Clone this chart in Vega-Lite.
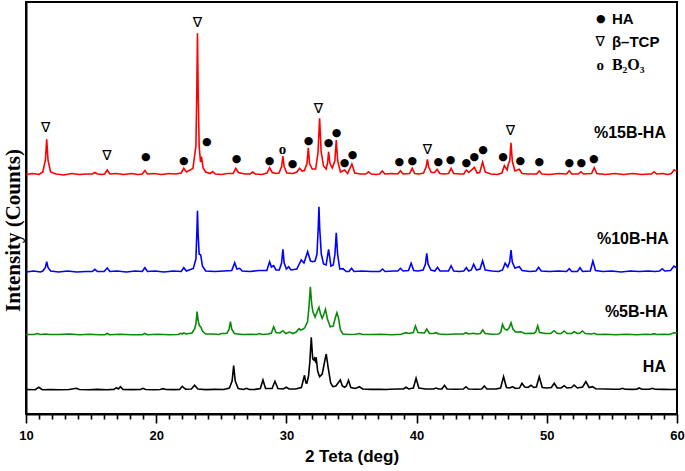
{
  "$schema": "https://vega.github.io/schema/vega-lite/v6.json",
  "width": 651,
  "height": 412,
  "autosize": {"type": "none"},
  "padding": {"left": 26, "top": 2, "right": 8, "bottom": 57},
  "background": "white",
  "config": {
    "view": {"stroke": "black", "strokeWidth": 2},
    "axis": {"grid": false, "domainColor": "black", "domainWidth": 2, "tickColor": "black"}
  },
  "datasets": {
    "red": [
      {"x":10,"y":239.5},{"x":10.5,"y":240.5},{"x":11.0,"y":239.5},
      {"x":11.29,"y":242},{"x":11.49,"y":253.9},{"x":11.59,"y":274.7},{"x":11.69,"y":253.9},{"x":11.89,"y":242},
      {"x":12.3,"y":240},{"x":12.9,"y":239},{"x":13.5,"y":240.5},{"x":14.1,"y":239.5},{"x":14.7,"y":240},
      {"x":15.09,"y":240},{"x":15.29,"y":241.5},{"x":15.49,"y":240},{"x":15.8,"y":239.5},
      {"x":16.04,"y":240},{"x":16.24,"y":244},{"x":16.44,"y":240},
      {"x":16.9,"y":240.5},{"x":17.5,"y":239.5},{"x":18.1,"y":240.5},{"x":18.6,"y":239.5},
      {"x":18.93,"y":240},{"x":19.13,"y":243.5},{"x":19.33,"y":240},
      {"x":19.8,"y":240.5},{"x":20.4,"y":239.5},{"x":21.0,"y":240.5},{"x":21.5,"y":240},
      {"x":21.92,"y":241},{"x":22.12,"y":245.7},{"x":22.32,"y":242},
      {"x":22.82,"y":245.6},{"x":23.05,"y":268},{"x":23.12,"y":324.4},{"x":23.17,"y":380.7},{"x":23.22,"y":324.4},{"x":23.3,"y":268},
      {"x":23.4,"y":252},{"x":23.48,"y":257.3},{"x":23.6,"y":246},{"x":23.8,"y":242},
      {"x":24.14,"y":240.5},{"x":24.34,"y":242.5},{"x":24.54,"y":240},
      {"x":25.0,"y":239.5},{"x":25.5,"y":240.5},
      {"x":25.91,"y":240.5},{"x":26.11,"y":245.7},{"x":26.31,"y":241.5},{"x":26.8,"y":240},
      {"x":27.21,"y":240},{"x":27.41,"y":242},{"x":27.61,"y":240},{"x":28.1,"y":239.5},
      {"x":28.51,"y":241},{"x":28.71,"y":246.3},{"x":28.91,"y":241.5},{"x":29.2,"y":240.5},
      {"x":29.43,"y":241},{"x":29.63,"y":247.2},{"x":29.73,"y":258},{"x":29.83,"y":247.2},{"x":30.03,"y":241},
      {"x":30.5,"y":240.5},{"x":30.81,"y":242},{"x":31.01,"y":245.7},{"x":31.2,"y":243},
      {"x":31.38,"y":243.5},{"x":31.58,"y":250.5},{"x":31.68,"y":266.3},{"x":31.78,"y":250.5},{"x":31.98,"y":245},
      {"x":32.25,"y":245},{"x":32.43,"y":262},{"x":32.55,"y":295.7},{"x":32.67,"y":262},{"x":32.85,"y":248},
      {"x":33.05,"y":245},{"x":33.16,"y":251},{"x":33.24,"y":262.3},{"x":33.34,"y":251},{"x":33.52,"y":246},
      {"x":33.72,"y":253},{"x":33.83,"y":274},{"x":33.94,"y":253},{"x":34.15,"y":242},
      {"x":34.47,"y":244},{"x":34.7,"y":240.5},{"x":35.03,"y":250},{"x":35.25,"y":241},{"x":35.7,"y":240},
      {"x":36.11,"y":240},{"x":36.31,"y":242.3},{"x":36.51,"y":240},{"x":36.9,"y":239.5},
      {"x":37.16,"y":240},{"x":37.36,"y":243},{"x":37.56,"y":240},{"x":38.1,"y":240.5},
      {"x":38.56,"y":240},{"x":38.76,"y":243.3},{"x":38.96,"y":240},
      {"x":39.46,"y":240.5},{"x":39.66,"y":245.7},{"x":39.86,"y":240.5},{"x":40.2,"y":240},
      {"x":40.53,"y":241},{"x":40.73,"y":247},{"x":40.83,"y":254.7},{"x":40.93,"y":247},{"x":41.13,"y":241.5},
      {"x":41.38,"y":241.5},{"x":41.58,"y":244.7},{"x":41.78,"y":240.5},{"x":42.1,"y":240},
      {"x":42.45,"y":240.5},{"x":42.65,"y":245.7},{"x":42.85,"y":240.5},{"x":43.3,"y":240},
      {"x":43.62,"y":240},{"x":43.82,"y":244},{"x":44.0,"y":241.5},{"x":44.44,"y":246.7},{"x":44.65,"y":241},
      {"x":44.85,"y":241.5},{"x":45.07,"y":252},{"x":45.27,"y":242},{"x":45.7,"y":240},{"x":46.2,"y":239.5},
      {"x":46.55,"y":241},{"x":46.74,"y":248.3},{"x":46.95,"y":244},
      {"x":47.05,"y":250},{"x":47.15,"y":253},{"x":47.25,"y":271.3},{"x":47.35,"y":253},{"x":47.55,"y":243},
      {"x":47.89,"y":244.7},{"x":48.1,"y":240.5},{"x":48.6,"y":240},
      {"x":49.22,"y":240},{"x":49.42,"y":243},{"x":49.62,"y":240},{"x":50.2,"y":239.5},{"x":50.9,"y":240.5},
      {"x":51.52,"y":240},{"x":51.72,"y":243.3},{"x":51.92,"y":240},
      {"x":52.42,"y":240},{"x":52.62,"y":242.3},{"x":52.82,"y":240},
      {"x":53.44,"y":240.5},{"x":53.64,"y":246.3},{"x":53.84,"y":240.5},
      {"x":54.5,"y":239.5},{"x":55.2,"y":240.5},{"x":55.9,"y":239.5},{"x":56.6,"y":240.5},{"x":57.3,"y":239.5},{"x":57.9,"y":240},
      {"x":58.04,"y":240},{"x":58.24,"y":242.3},{"x":58.44,"y":240},{"x":58.9,"y":240.5},{"x":59.3,"y":239.5},
      {"x":59.57,"y":240.5},{"x":59.77,"y":244},{"x":60,"y":243}
    ],
    "blue": [
      {"x":10,"y":142},{"x":10.6,"y":143},{"x":11.1,"y":142},
      {"x":11.29,"y":143},{"x":11.49,"y":146.5},{"x":11.59,"y":152.3},{"x":11.69,"y":146.5},{"x":11.89,"y":143},
      {"x":12.5,"y":142},{"x":13.2,"y":143},{"x":13.9,"y":142},{"x":14.6,"y":142.5},
      {"x":15.09,"y":142.5},{"x":15.29,"y":144.7},{"x":15.49,"y":142.5},
      {"x":16.0,"y":142.5},{"x":16.24,"y":146},{"x":16.45,"y":142.5},
      {"x":17.0,"y":143},{"x":17.7,"y":142},{"x":18.4,"y":143},
      {"x":18.93,"y":142.5},{"x":19.13,"y":146.3},{"x":19.33,"y":142.5},
      {"x":19.9,"y":143},{"x":20.6,"y":142},{"x":21.3,"y":143},
      {"x":21.92,"y":142.5},{"x":22.12,"y":146.3},{"x":22.32,"y":143},
      {"x":22.85,"y":145.5},{"x":23.05,"y":155},{"x":23.12,"y":180},{"x":23.17,"y":203.3},{"x":23.22,"y":180},{"x":23.3,"y":160},
      {"x":23.42,"y":159},{"x":23.55,"y":148},{"x":23.8,"y":143},
      {"x":24.5,"y":142.5},{"x":25.2,"y":143},
      {"x":25.8,"y":143.5},{"x":26.03,"y":151.3},{"x":26.2,"y":145},{"x":26.41,"y":145.7},{"x":26.6,"y":143},
      {"x":27.2,"y":142.5},{"x":27.9,"y":143.5},
      {"x":28.5,"y":143.5},{"x":28.71,"y":152.3},{"x":28.85,"y":147},{"x":29.02,"y":148.3},{"x":29.2,"y":144},
      {"x":29.45,"y":144},{"x":29.63,"y":151},{"x":29.73,"y":164.7},{"x":29.83,"y":151},{"x":30.0,"y":145},
      {"x":30.17,"y":147.3},{"x":30.35,"y":144},
      {"x":30.8,"y":145},{"x":31.14,"y":154},{"x":31.35,"y":151},{"x":31.63,"y":162.3},{"x":31.85,"y":153},{"x":32.01,"y":152.3},{"x":32.2,"y":153},
      {"x":32.35,"y":160},{"x":32.44,"y":185},{"x":32.5,"y":207.3},{"x":32.56,"y":185},{"x":32.68,"y":160},{"x":32.85,"y":150},
      {"x":33.05,"y":149},{"x":33.24,"y":164.7},{"x":33.42,"y":148},
      {"x":33.6,"y":149},{"x":33.73,"y":160},{"x":33.83,"y":181.3},{"x":33.93,"y":160},{"x":34.1,"y":145},
      {"x":34.34,"y":145.3},{"x":34.6,"y":142.5},
      {"x":34.8,"y":142.5},{"x":35.0,"y":145.7},{"x":35.2,"y":142.5},
      {"x":35.8,"y":143},{"x":36.5,"y":142.5},
      {"x":37.18,"y":142.5},{"x":37.38,"y":145},{"x":37.58,"y":142.5},{"x":38.2,"y":143},
      {"x":38.56,"y":143},{"x":38.76,"y":145.7},{"x":38.96,"y":143},
      {"x":39.38,"y":143.5},{"x":39.58,"y":150.7},{"x":39.78,"y":143.5},{"x":40.1,"y":143},
      {"x":40.5,"y":144},{"x":40.68,"y":150},{"x":40.78,"y":160.7},{"x":40.88,"y":150},{"x":41.1,"y":144},
      {"x":41.4,"y":143},{"x":41.6,"y":146.7},{"x":41.8,"y":143},
      {"x":42.45,"y":143},{"x":42.65,"y":148.3},{"x":42.85,"y":143},{"x":43.3,"y":142.5},
      {"x":43.62,"y":143},{"x":43.82,"y":146.3},{"x":44.0,"y":143},
      {"x":44.2,"y":144},{"x":44.38,"y":149.7},{"x":44.6,"y":144},
      {"x":44.87,"y":145},{"x":45.07,"y":153.3},{"x":45.27,"y":144},
      {"x":45.8,"y":143},{"x":46.3,"y":142.5},
      {"x":46.6,"y":144},{"x":46.8,"y":150.7},{"x":47.0,"y":147},{"x":47.15,"y":152},{"x":47.25,"y":164},{"x":47.35,"y":152},{"x":47.55,"y":146},
      {"x":47.89,"y":147.3},{"x":48.1,"y":143.5},{"x":48.7,"y":142.5},
      {"x":49.17,"y":143},{"x":49.37,"y":146.7},{"x":49.57,"y":143},
      {"x":50.2,"y":142.5},{"x":50.9,"y":143},
      {"x":51.52,"y":142.5},{"x":51.72,"y":145.3},{"x":51.92,"y":142.5},
      {"x":52.35,"y":142.5},{"x":52.55,"y":146.3},{"x":52.75,"y":142.5},
      {"x":53.34,"y":143},{"x":53.54,"y":153},{"x":53.74,"y":143.5},
      {"x":54.3,"y":142.5},{"x":55.0,"y":143},{"x":55.7,"y":142},{"x":56.4,"y":143},{"x":57.1,"y":142.5},{"x":57.8,"y":143},{"x":58.3,"y":142.5},
      {"x":58.66,"y":143},{"x":58.86,"y":145.3},{"x":59.06,"y":143},
      {"x":59.5,"y":143.5},{"x":59.77,"y":148},{"x":60,"y":146}
    ],
    "green": [
      {"x":10,"y":79.5},{"x":10.6,"y":79.5},{"x":10.86,"y":80.5},{"x":11.1,"y":79.5},{"x":11.53,"y":80},{"x":11.8,"y":79.5},
      {"x":12.5,"y":79.5},{"x":13.3,"y":80},{"x":14.1,"y":79.2},{"x":14.9,"y":79.7},{"x":15.6,"y":79.3},
      {"x":16.04,"y":79.3},{"x":16.24,"y":80.5},{"x":16.44,"y":79.3},
      {"x":17.2,"y":79.7},{"x":18.1,"y":79.2},
      {"x":18.93,"y":79.3},{"x":19.13,"y":80.5},{"x":19.33,"y":79.3},
      {"x":20.1,"y":79.7},{"x":21.0,"y":79.3},
      {"x":21.7,"y":79.5},{"x":21.86,"y":80.7},{"x":22.0,"y":80},{"x":22.12,"y":81},{"x":22.3,"y":80},
      {"x":22.75,"y":81},{"x":22.95,"y":85},{"x":23.05,"y":90},{"x":23.14,"y":102.3},{"x":23.24,"y":92},{"x":23.33,"y":88},
      {"x":23.42,"y":87.3},{"x":23.55,"y":83},{"x":23.8,"y":80},
      {"x":24.37,"y":80},{"x":24.8,"y":79.5},{"x":25.01,"y":80.5},{"x":25.3,"y":80.5},
      {"x":25.45,"y":81},{"x":25.6,"y":85},{"x":25.7,"y":92.3},{"x":25.8,"y":85},{"x":26.0,"y":80.5},
      {"x":26.6,"y":79.5},{"x":27.3,"y":79.8},
      {"x":27.74,"y":79.5},{"x":27.94,"y":80.5},{"x":28.14,"y":79.5},{"x":28.6,"y":80},
      {"x":28.85,"y":81},{"x":29.02,"y":87.3},{"x":29.2,"y":81.5},
      {"x":29.5,"y":81},{"x":29.73,"y":83.3},{"x":29.95,"y":80.5},
      {"x":30.25,"y":82},{"x":30.5,"y":80.5},
      {"x":30.75,"y":82},{"x":30.97,"y":85.3},{"x":31.1,"y":84},{"x":31.22,"y":84.5},{"x":31.4,"y":86},
      {"x":31.62,"y":92},{"x":31.72,"y":105},{"x":31.84,"y":127.3},{"x":31.94,"y":110},{"x":32.04,"y":102.3},{"x":32.2,"y":97},
      {"x":32.5,"y":106.7},{"x":32.62,"y":100},{"x":32.75,"y":95.7},{"x":32.88,"y":100},{"x":33.0,"y":104.7},{"x":33.15,"y":95},{"x":33.37,"y":87.3},
      {"x":33.6,"y":88},{"x":33.75,"y":96},{"x":33.88,"y":101.3},{"x":34.0,"y":96},{"x":34.15,"y":84},{"x":34.34,"y":80},
      {"x":34.8,"y":79.5},{"x":35.3,"y":79.7},{"x":35.61,"y":80.5},{"x":35.85,"y":79.5},
      {"x":36.5,"y":79.5},{"x":37.3,"y":79.8},{"x":38.1,"y":79.3},{"x":38.8,"y":79.7},
      {"x":39.19,"y":81.3},{"x":39.4,"y":80.5},
      {"x":39.75,"y":81.5},{"x":39.91,"y":88},{"x":40.1,"y":81.5},
      {"x":40.6,"y":81},{"x":40.78,"y":85},{"x":40.98,"y":80.5},
      {"x":41.3,"y":80.5},{"x":41.5,"y":81.3},{"x":41.7,"y":80},
      {"x":42.3,"y":79.5},{"x":43.0,"y":80},
      {"x":43.6,"y":80},{"x":43.79,"y":81.3},{"x":44.0,"y":80},{"x":44.38,"y":80.7},{"x":44.6,"y":80},
      {"x":44.9,"y":80.5},{"x":45.07,"y":84},{"x":45.27,"y":80.5},
      {"x":45.8,"y":79.7},{"x":46.3,"y":80},
      {"x":46.47,"y":82},{"x":46.6,"y":89.7},{"x":46.75,"y":85},{"x":46.95,"y":84},{"x":47.1,"y":86},{"x":47.25,"y":91.3},{"x":47.4,"y":85},{"x":47.6,"y":82},
      {"x":48.02,"y":82.3},{"x":48.3,"y":80.5},
      {"x":48.79,"y":80.7},{"x":49.0,"y":80.5},{"x":49.15,"y":82},{"x":49.3,"y":88.3},{"x":49.45,"y":81.5},
      {"x":49.9,"y":80.5},{"x":50.3,"y":80.5},{"x":50.57,"y":83.3},{"x":50.8,"y":80.5},
      {"x":51.1,"y":80.5},{"x":51.34,"y":83},{"x":51.55,"y":80.5},
      {"x":51.9,"y":80.5},{"x":52.1,"y":82.3},{"x":52.35,"y":80.5},
      {"x":52.55,"y":81},{"x":52.74,"y":83},{"x":52.95,"y":80.5},
      {"x":53.4,"y":80},{"x":53.64,"y":80.7},{"x":53.85,"y":79.5},
      {"x":54.5,"y":79.7},{"x":55.3,"y":79.3},{"x":56.1,"y":79.8},{"x":56.9,"y":79.3},{"x":57.6,"y":79.8},
      {"x":58.04,"y":79.5},{"x":58.24,"y":80.3},{"x":58.44,"y":79.5},
      {"x":59.0,"y":79.8},{"x":59.4,"y":79.5},{"x":59.77,"y":81.3},{"x":60,"y":81}
    ],
    "black": [
      {"x":10,"y":24.5},{"x":10.7,"y":24.3},{"x":10.99,"y":26.7},{"x":11.25,"y":24.3},
      {"x":11.9,"y":24.5},{"x":12.6,"y":24.2},{"x":13.3,"y":24.5},
      {"x":13.88,"y":25.7},{"x":14.1,"y":24.5},
      {"x":14.8,"y":24.3},{"x":15.5,"y":24.6},{"x":16.2,"y":24.3},
      {"x":16.75,"y":24.6},{"x":16.94,"y":26.3},{"x":17.1,"y":25},{"x":17.25,"y":27.3},{"x":17.45,"y":24.5},
      {"x":18.1,"y":24.4},
      {"x":18.8,"y":24.5},{"x":18.98,"y":25.7},{"x":19.2,"y":24.5},{"x":19.9,"y":24.3},
      {"x":20.3,"y":24.5},{"x":20.52,"y":25.3},{"x":20.75,"y":24.5},{"x":21.4,"y":24.4},
      {"x":21.8,"y":24.6},{"x":22.0,"y":27.7},{"x":22.25,"y":24.8},
      {"x":22.7,"y":25},{"x":22.95,"y":28.7},{"x":23.2,"y":25},
      {"x":23.8,"y":24.4},{"x":24.5,"y":24.6},{"x":25.2,"y":24.5},
      {"x":25.62,"y":26},{"x":25.83,"y":33},{"x":25.95,"y":48.3},{"x":26.07,"y":33},{"x":26.3,"y":25.5},
      {"x":26.7,"y":24.5},{"x":26.92,"y":25.7},{"x":27.15,"y":24.5},{"x":27.6,"y":24.6},
      {"x":28.0,"y":25.5},{"x":28.2,"y":34},{"x":28.4,"y":25.5},
      {"x":28.9,"y":25.5},{"x":29.12,"y":32.7},{"x":29.35,"y":25.5},
      {"x":29.75,"y":25},{"x":29.99,"y":26.7},{"x":30.2,"y":25},{"x":30.7,"y":25},
      {"x":31.15,"y":26.5},{"x":31.39,"y":38.7},{"x":31.5,"y":31},{"x":31.57,"y":30.7},{"x":31.7,"y":38},
      {"x":31.8,"y":52},{"x":31.91,"y":76.7},{"x":32.02,"y":55},{"x":32.1,"y":54},{"x":32.16,"y":55.7},{"x":32.22,"y":53},{"x":32.29,"y":56.7},{"x":32.4,"y":43},
      {"x":32.55,"y":37.3},{"x":32.75,"y":40},{"x":32.93,"y":52},{"x":33.06,"y":60},{"x":33.2,"y":47},{"x":33.4,"y":31},
      {"x":33.57,"y":27.3},{"x":33.8,"y":28},{"x":34.14,"y":34},{"x":34.3,"y":28},{"x":34.47,"y":26.7},{"x":34.6,"y":28},{"x":34.77,"y":33.7},{"x":34.95,"y":26.5},
      {"x":35.3,"y":25.5},{"x":35.61,"y":27.3},{"x":35.85,"y":25},
      {"x":36.5,"y":24.6},{"x":37.2,"y":24.8},{"x":37.71,"y":24.5},{"x":37.91,"y":24.7},{"x":38.6,"y":25},
      {"x":38.99,"y":25},{"x":39.19,"y":26.7},{"x":39.4,"y":25},
      {"x":39.75,"y":26},{"x":39.96,"y":35.7},{"x":40.17,"y":26},{"x":40.7,"y":25},
      {"x":41.3,"y":25},{"x":41.5,"y":26},{"x":41.7,"y":25},
      {"x":41.94,"y":25},{"x":42.14,"y":28.7},{"x":42.34,"y":25},{"x":43.0,"y":24.8},
      {"x":43.59,"y":25},{"x":43.79,"y":27.3},{"x":43.99,"y":25},{"x":44.6,"y":24.8},
      {"x":45.0,"y":25},{"x":45.2,"y":28},{"x":45.4,"y":25},{"x":46.1,"y":25},
      {"x":46.45,"y":26},{"x":46.68,"y":37.3},{"x":46.9,"y":26.5},
      {"x":47.15,"y":26},{"x":47.37,"y":27.3},{"x":47.6,"y":25.5},
      {"x":47.9,"y":26},{"x":48.09,"y":30.7},{"x":48.3,"y":27},
      {"x":48.55,"y":26.5},{"x":48.79,"y":28.7},{"x":49.0,"y":26.5},
      {"x":49.2,"y":27},{"x":49.42,"y":37.3},{"x":49.65,"y":26.5},
      {"x":50.0,"y":26},{"x":50.35,"y":26.5},{"x":50.57,"y":30.7},{"x":50.8,"y":26},
      {"x":51.1,"y":26},{"x":51.34,"y":28.3},{"x":51.55,"y":26},
      {"x":51.9,"y":26.5},{"x":52.1,"y":29},{"x":52.35,"y":26},
      {"x":52.75,"y":27},{"x":53.0,"y":32.3},{"x":53.25,"y":26.5},{"x":53.51,"y":27.3},{"x":53.75,"y":25.3},
      {"x":54.5,"y":25},{"x":55.2,"y":24.8},
      {"x":55.6,"y":24.8},{"x":55.81,"y":25.7},{"x":56.0,"y":24.8},{"x":56.6,"y":24.6},
      {"x":56.9,"y":24.8},{"x":57.09,"y":26},{"x":57.3,"y":24.8},
      {"x":57.9,"y":24.8},{"x":58.11,"y":25.7},{"x":58.3,"y":24.8},
      {"x":59.0,"y":24.6},{"x":59.6,"y":24.5},{"x":60,"y":24.6}
    ],
    "dots": [
      {"x":19.2,"y":257,"m":"●"},{"x":22.12,"y":253,"m":"●"},
      {"x":23.88,"y":272,"m":"●"},{"x":26.18,"y":255,"m":"●"},{"x":28.71,"y":253,"m":"●"},
      {"x":30.48,"y":250,"m":"●"},{"x":31.7,"y":273,"m":"●"},
      {"x":33.24,"y":271,"m":"●"},{"x":33.86,"y":281,"m":"●"},{"x":34.47,"y":251,"m":"●"},{"x":35.08,"y":259,"m":"●"},
      {"x":38.68,"y":252,"m":"●"},{"x":39.66,"y":253,"m":"●"},{"x":41.67,"y":252,"m":"●"},
      {"x":42.6,"y":254,"m":"●"},{"x":43.82,"y":251,"m":"●"},{"x":44.44,"y":257,"m":"●"},{"x":45.1,"y":264,"m":"●"},
      {"x":46.64,"y":257,"m":"●"},{"x":47.97,"y":253,"m":"●"},{"x":49.42,"y":252,"m":"●"},
      {"x":51.72,"y":251,"m":"●"},{"x":52.64,"y":251,"m":"●"},{"x":53.61,"y":255,"m":"●"},
      {"x":54.15,"y":395,"m":"●"}
    ],
    "nablas": [
      {"x":11.51,"y":286,"m":"∇"},{"x":16.21,"y":258,"m":"∇"},{"x":23.17,"y":391.3,"m":"∇"},{"x":32.47,"y":305,"m":"∇"},
      {"x":40.83,"y":264,"m":"∇"},{"x":47.2,"y":283,"m":"∇"},{"x":54.1,"y":372,"m":"∇"}
    ],
    "oMarkers": [
      {"x":29.71,"y":265,"m":"o"},{"x":54.1,"y":349,"m":"o"}
    ],
    "legendSans": [
      {"x":55.0,"y":395,"t":"HA"},{"x":55.0,"y":372,"t":"β–TCP"}
    ],
    "legendSerif": [
      {"x":55.0,"y":349,"t":"B₂O₃"}
    ],
    "seriesLabels": [
      {"x":59.15,"y":281,"t":"%15B-HA"},{"x":59.38,"y":175,"t":"%10B-HA"},{"x":59.31,"y":102,"t":"%5B-HA"},{"x":59.15,"y":47,"t":"HA"}
    ]
  },
  "encoding": {
    "x": {
      "field": "x", "type": "quantitative",
      "scale": {"domain": [10, 60], "nice": false, "zero": false},
      "axis": {
        "title": "2 Teta (deg)",
        "titleFont": "Liberation Sans", "titleFontSize": 17, "titleFontWeight": "bold", "titleColor": "black", "titlePadding": 6,
        "values": [10,11,12,13,14,15,16,17,18,19,20,21,22,23,24,25,26,27,28,29,30,31,32,33,34,35,36,37,38,39,40,41,42,43,44,45,46,47,48,49,50,51,52,53,54,55,56,57,58,59,60],
        "labelExpr": "datum.value % 10 === 0 ? datum.label : ''",
        "labelOverlap": false,
        "labelFont": "Liberation Sans", "labelFontSize": 13, "labelFontWeight": "bold", "labelColor": "black", "labelPadding": 6,
        "labelFlush": false,
        "tickSize": {"condition": {"test": "datum.value % 10 === 0", "value": 9}, "value": 5},
        "tickWidth": 1.6
      }
    },
    "y": {
      "field": "y", "type": "quantitative",
      "scale": {"domain": [0, 412], "nice": false, "zero": false},
      "axis": {
        "title": "Intensity (Counts)",
        "titleFont": "Liberation Serif", "titleFontSize": 21, "titleFontWeight": "bold", "titleColor": "black",
        "titleAngle": 270, "titleX": -13, "titleY": 228, "titleBaseline": "middle", "titleAlign": "center",
        "labels": false, "ticks": false
      }
    }
  },
  "layer": [
    {"data": {"name": "black"}, "mark": {"type": "line", "color": "black", "strokeWidth": 1.6}},
    {"data": {"name": "green"}, "mark": {"type": "line", "color": "#0a8a0a", "strokeWidth": 1.6}},
    {"data": {"name": "blue"}, "mark": {"type": "line", "color": "#0000ff", "strokeWidth": 1.6}},
    {"data": {"name": "red"}, "mark": {"type": "line", "color": "#ff0000", "strokeWidth": 1.6}},
    {"data": {"name": "dots"}, "mark": {"type": "text", "font": "DejaVu Sans", "fontSize": 11, "align": "center", "baseline": "middle", "color": "black"}, "encoding": {"text": {"field": "m"}}},
    {"data": {"name": "nablas"}, "mark": {"type": "text", "font": "DejaVu Sans", "fontSize": 14, "align": "center", "baseline": "middle", "color": "black"}, "encoding": {"text": {"field": "m"}}},
    {"data": {"name": "oMarkers"}, "mark": {"type": "text", "font": "Liberation Serif", "fontSize": 15, "fontWeight": "bold", "align": "center", "baseline": "middle", "color": "black"}, "encoding": {"text": {"field": "m"}}},
    {"data": {"name": "legendSans"}, "mark": {"type": "text", "font": "Liberation Sans", "fontWeight": "bold", "fontSize": 15, "align": "left", "baseline": "middle", "color": "black"}, "encoding": {"text": {"field": "t"}}},
    {"data": {"name": "legendSerif"}, "mark": {"type": "text", "font": "Liberation Serif", "fontWeight": "bold", "fontSize": 16, "align": "left", "baseline": "middle", "color": "black"}, "encoding": {"text": {"field": "t"}}},
    {"data": {"name": "seriesLabels"}, "mark": {"type": "text", "font": "Liberation Sans", "fontWeight": "bold", "fontSize": 16, "align": "right", "baseline": "middle", "color": "black"}, "encoding": {"text": {"field": "t"}}}
  ]
}
